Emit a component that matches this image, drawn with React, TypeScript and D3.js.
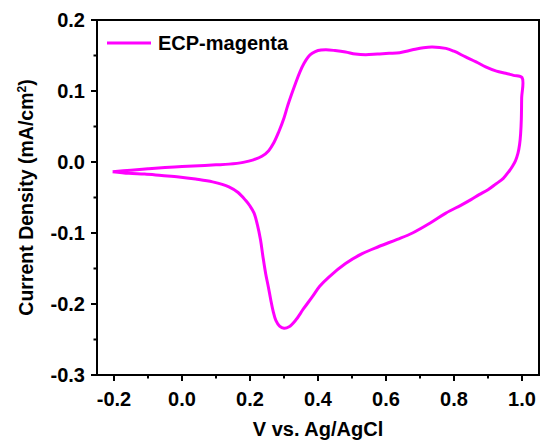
import React from "react";
import * as d3 from "d3";

const forwardV = [-0.204, -0.15, -0.1, -0.05, 0.0, 0.05, 0.1, 0.138, 0.18, 0.21, 0.235, 0.255, 0.27, 0.285, 0.3, 0.31, 0.322, 0.334, 0.346, 0.359, 0.371, 0.383, 0.4, 0.423, 0.45, 0.481, 0.51, 0.54, 0.575, 0.609, 0.64, 0.678, 0.71, 0.736, 0.776, 0.8, 0.834, 0.865, 0.893, 0.925, 0.952, 0.975, 1.0];
const forwardI = [-0.0137, -0.0115, -0.0095, -0.0078, -0.0065, -0.0052, -0.004, -0.003, -0.0005, 0.003, 0.008, 0.016, 0.027, 0.043, 0.062, 0.078, 0.095, 0.111, 0.126, 0.139, 0.148, 0.153, 0.157, 0.158, 0.157, 0.155, 0.152, 0.151, 0.152, 0.153, 0.154, 0.158, 0.161, 0.162, 0.16, 0.156, 0.148, 0.141, 0.134, 0.128, 0.125, 0.122, 0.119];

const reverseV = [1.0, 0.999, 0.998, 0.996, 0.993, 0.988, 0.981, 0.972, 0.962, 0.945, 0.923, 0.9, 0.874, 0.85, 0.82, 0.776, 0.73, 0.678, 0.633, 0.579, 0.53, 0.481, 0.432, 0.405, 0.383, 0.357, 0.334, 0.315, 0.3, 0.287, 0.276, 0.268, 0.261, 0.254, 0.246, 0.238, 0.231, 0.222, 0.212, 0.2, 0.187, 0.165, 0.138, 0.09, 0.04, -0.009, -0.06, -0.11, -0.156, -0.204];
const reverseI = [0.119, 0.09, 0.06, 0.04, 0.025, 0.012, 0.002, -0.006, -0.013, -0.023, -0.031, -0.039, -0.046, -0.053, -0.061, -0.072, -0.086, -0.1, -0.109, -0.119, -0.129, -0.143, -0.162, -0.175, -0.19, -0.207, -0.223, -0.232, -0.234, -0.231, -0.223, -0.21, -0.194, -0.176, -0.157, -0.133, -0.11, -0.089, -0.072, -0.062, -0.054, -0.043, -0.035, -0.028, -0.024, -0.021, -0.019, -0.017, -0.016, -0.0137];

const xTicks = [-0.2, 0.0, 0.2, 0.4, 0.6, 0.8, 1.0];
const xMinor = [-0.1, 0.1, 0.3, 0.5, 0.7, 0.9];
const yTicks = [-0.3, -0.2, -0.1, 0.0, 0.1, 0.2];
const yMinor = [-0.25, -0.15, -0.05, 0.05, 0.15];
const seriesName = "ECP-magenta";

const W = 542, H = 441;
const left = 97, right = 539, top = 20, bottom = 375;
const font = "'Liberation Sans', Arial, sans-serif";

export default function App() {
  const x = d3.scaleLinear().domain([-0.25, 1.05]).range([left, right]);
  const y = d3.scaleLinear().domain([-0.3, 0.2]).range([bottom, top]);
  const pts: [number, number][] = [];
  forwardV.forEach((v, i) => pts.push([v, forwardI[i]]));
  reverseV.forEach((v, i) => { if (i > 0) pts.push([v, reverseI[i]]); });
  const line = d3.line<[number, number]>().x(d => x(d[0])).y(d => y(d[1])).curve(d3.curveCatmullRom.alpha(0.5));
  const fs = 20;
  return (
    <svg width={W} height={H} style={{ position: "absolute", left: 0, top: 0, background: "#fff" }} fontFamily={font} fontWeight="bold">
      <rect x={0} y={0} width={W} height={H} fill="#fff" />
      <path d={line(pts) || ""} fill="none" stroke="#ff00ff" strokeWidth={3} strokeLinejoin="round" />
      <rect x={left} y={top} width={right - left} height={bottom - top} fill="none" stroke="#000" strokeWidth={2} />
      {xTicks.map(t => (
        <g key={"xt" + t}>
          <line x1={x(t)} x2={x(t)} y1={bottom} y2={bottom + 6} stroke="#000" strokeWidth={2} />
          <text x={x(t)} y={406} textAnchor="middle" fontSize={fs}>{t.toFixed(1)}</text>
        </g>
      ))}
      {xMinor.map(t => (
        <line key={"xm" + t} x1={x(t)} x2={x(t)} y1={bottom} y2={bottom + 3.5} stroke="#000" strokeWidth={2} />
      ))}
      {yTicks.map(t => (
        <g key={"yt" + t}>
          <line x1={left} x2={left - 6} y1={y(t)} y2={y(t)} stroke="#000" strokeWidth={2} />
          <text x={85} y={y(t) + 7} textAnchor="end" fontSize={fs}>{t.toFixed(1)}</text>
        </g>
      ))}
      {yMinor.map(t => (
        <line key={"ym" + t} x1={left} x2={left - 3.5} y1={y(t)} y2={y(t)} stroke="#000" strokeWidth={2} />
      ))}
      <text x={318} y={436} textAnchor="middle" fontSize={fs}>V vs. Ag/AgCl</text>
      <text transform={`translate(33,${(top + bottom) / 2}) rotate(-90)`} textAnchor="middle" fontSize={19.5}>
        Current Density (mA/cm<tspan dy={-7} fontSize={12}>2</tspan><tspan dy={7}>)</tspan>
      </text>
      <line x1={107} x2={151} y1={43} y2={43} stroke="#ff00ff" strokeWidth={3} />
      <text x={158} y={50} fontSize={fs}>{seriesName}</text>
    </svg>
  );
}
